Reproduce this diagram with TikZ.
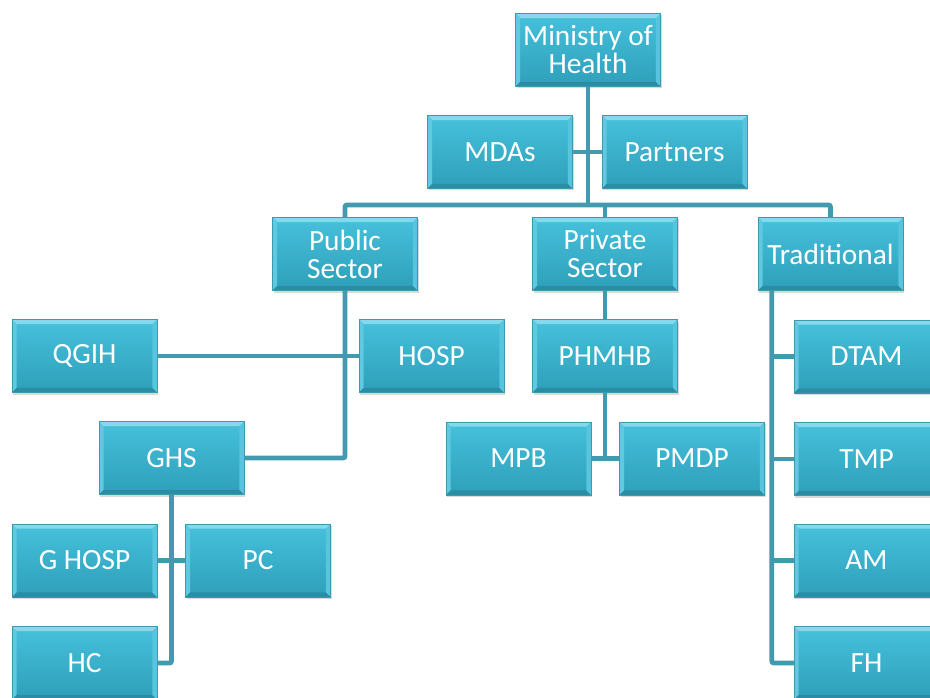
\documentclass[tikz,border=0pt]{standalone}
\usepackage{fontspec}
\setmainfont{Carlito}
\usetikzlibrary{shadows}
\definecolor{boxtop}{HTML}{46C1DC}
\definecolor{boxbot}{HTML}{2E9FB9}
\definecolor{bevhi}{HTML}{86D9EC}
\definecolor{bevlt}{HTML}{5FC9E1}
\definecolor{bevrt}{HTML}{58C4DD}
\definecolor{bevdk}{HTML}{2A8DA4}
\definecolor{linkcol}{HTML}{4399AE}
\begin{document}
\begin{tikzpicture}[x=0.75pt,y=-0.75pt,
unit/.style={rectangle,minimum width=108.75pt,minimum height=54.75pt,inner sep=0pt,
  align=center,text=white,font=\fontsize{22}{21}\selectfont,
  top color=boxtop,bottom color=boxbot,draw=boxbot!80!gray,line width=0.3pt,
  drop shadow={opacity=0.3,shadow xshift=1pt,shadow yshift=-1.5pt},bevel},
bevel/.style={path picture={
  \path (path picture bounding box.north west) coordinate (bnw)
        (path picture bounding box.south east) coordinate (bse);
  \fill[bevhi] (bnw) -- (bnw -| bse) -- ([shift={(-3.5pt,-3.5pt)}]bnw -| bse)
        -- ([shift={(3.5pt,-3.5pt)}]bnw) -- cycle;
  \fill[bevlt] (bnw) -- ([shift={(3.5pt,-3.5pt)}]bnw) -- ([shift={(3.5pt,3.5pt)}]bnw |- bse)
        -- (bnw |- bse) -- cycle;
  \fill[bevdk] (bnw |- bse) -- (bse) -- ([shift={(-3.5pt,3.5pt)}]bse)
        -- ([shift={(3.5pt,3.5pt)}]bnw |- bse) -- cycle;
  \fill[bevrt] (bse) -- (bnw -| bse) -- ([shift={(-3.5pt,-3.5pt)}]bnw -| bse)
        -- ([shift={(-3.5pt,3.5pt)}]bse) -- cycle;}},
link/.style={draw=linkcol,line width=3.6pt,rounded corners=1.5pt}]
\useasboundingbox (0,0) rectangle (930,698);
\node[unit] (moh) at (588,50) {Ministry of\\Health};
\node[unit] (mda) at (500,152) {MDAs};
\node[unit] (prt) at (674.5,152) {Partners};
\node[unit] (pub) at (345,254) {Public\\Sector};
\node[unit] (prv) at (605,254) {Private\\Sector};
\node[unit] (trad) at (830.5,254) {Traditional};
\node[unit] (qgih) at (84.5,356) {QGIH};
\node[unit] (hosp) at (431.5,356) {HOSP};
\node[unit] (phm) at (605,356) {PHMHB};
\node[unit] (dtam) at (866.5,356.5) {DTAM};
\node[unit] (ghs) at (171.5,458) {GHS};
\node[unit] (mpb) at (518.5,458.5) {MPB};
\node[unit] (pmdp) at (692,458.5) {PMDP};
\node[unit] (tmp) at (866.5,459) {TMP};
\node[unit] (ghos) at (84.5,560.5) {G HOSP};
\node[unit] (pc) at (258,560.5) {PC};
\node[unit] (am) at (866.5,560.5) {AM};
\node[unit] (hc) at (84.5,663) {HC};
\node[unit] (fh) at (866.5,663) {FH};
\coordinate (bus) at (588,205);
\coordinate (tl) at ([xshift=10.5pt]trad.south west);
\draw[link] (moh.south) -- (moh.south |- bus);
\draw[link] (mda.east) -- (prt.west);
\draw[link] (pub.north) |- (bus) -| (trad.north);
\draw[link] (prv.north) -- (prv.north |- bus);
\draw[link] (pub.south) |- (ghs.east);
\draw[link] (qgih.east) -- (hosp.west);
\draw[link] (prv.south) -- (phm.north);
\draw[link] (phm.south) -- (phm.south |- mpb.east);
\draw[link] (mpb.east) -- (pmdp.west);
\draw[link] (tl) |- (fh.west);
\foreach \n in {dtam,tmp,am} \draw[link] (\n.west) -- (\n.west -| tl);
\draw[link] (ghs.south) |- (hc.east);
\draw[link] (ghos.east) -- (pc.west);
\end{tikzpicture}
\end{document}
